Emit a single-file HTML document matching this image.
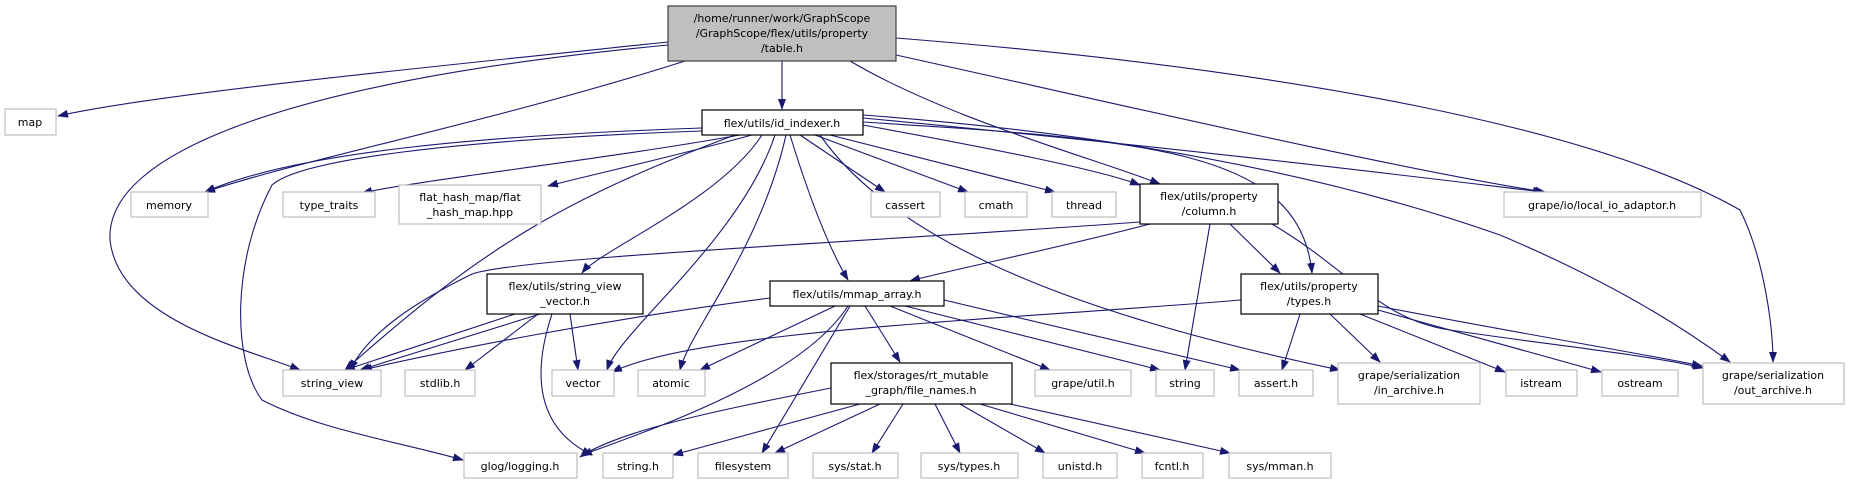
<!DOCTYPE html>
<html><head><meta charset="utf-8"><style>
html,body{margin:0;padding:0;background:#fff;}
svg{display:block;}
text{font-family:"DejaVu Sans","Liberation Sans",sans-serif;font-size:11px;fill:#000;text-anchor:middle;}
.e{fill:none;stroke:#191970;stroke-width:1.1;marker-end:url(#a);}
.l{fill:#fff;stroke:#bfbfbf;stroke-width:1.2;}
.n{fill:#fff;stroke:#000;stroke-width:1.2;}
</style></head><body>
<svg width="1850" height="484" viewBox="0 0 1850 484" xmlns="http://www.w3.org/2000/svg">
<defs><marker id="a" markerWidth="11" markerHeight="8" refX="10" refY="4" orient="auto" markerUnits="userSpaceOnUse"><path d="M0,0 L11,4 L0,8 z" fill="#191970"/></marker></defs>
<!-- edges from table.h -->
<path class="e" d="M668,42 C400,70 150,95 58,116"/>
<path class="e" d="M668,45 C300,80 105,150 110,240 C118,320 250,350 300,370"/>
<path class="e" d="M685,61 C500,120 300,160 205,192"/>
<path class="e" d="M782,61 L782,109"/>
<path class="e" d="M850,61 C950,120 1100,160 1160,184"/>
<path class="e" d="M896,55 C1100,100 1400,170 1545,192"/>
<path class="e" d="M896,38 C1300,70 1600,130 1740,210 C1765,260 1773,330 1773,362"/>
<!-- id_indexer -->
<path class="e" d="M702,128 C500,135 300,150 205,192"/>
<path class="e" d="M702,131 C450,140 300,160 272,185 C232,260 232,360 262,400 C320,430 400,442 463,460"/>
<path class="e" d="M740,135 C600,160 420,180 362,193"/>
<path class="e" d="M752,135 C660,160 590,175 548,186"/>
<path class="e" d="M735,135 C560,200 480,250 345,370"/>
<path class="e" d="M762,135 C720,200 600,250 582,273"/>
<path class="e" d="M775,135 C740,240 620,330 607,370"/>
<path class="e" d="M786,135 C760,250 690,330 680,370"/>
<path class="e" d="M790,135 C810,200 830,250 848,280"/>
<path class="e" d="M800,135 L885,192"/>
<path class="e" d="M815,135 L968,192"/>
<path class="e" d="M830,135 L1055,192"/>
<path class="e" d="M863,125 C1000,150 1100,170 1140,185"/>
<path class="e" d="M863,122 C1150,140 1300,150 1312,273"/>
<path class="e" d="M820,135 C900,250 1100,320 1340,370"/>
<path class="e" d="M863,118 C1200,150 1400,175 1543,192"/>
<path class="e" d="M863,115 C1200,140 1400,200 1500,235 C1630,290 1700,340 1730,362"/>
<!-- column.h -->
<path class="e" d="M1140,222 C900,240 500,258 470,275 C420,300 370,330 350,370"/>
<path class="e" d="M1150,224 C1050,250 950,270 910,281"/>
<path class="e" d="M1210,224 L1185,370"/>
<path class="e" d="M1230,224 L1280,273"/>
<path class="e" d="M1272,224 C1350,270 1380,320 1450,330 C1550,345 1650,355 1703,368"/>
<!-- string_view_vector -->
<path class="e" d="M515,314 L345,370"/>
<path class="e" d="M540,314 L360,370"/>
<path class="e" d="M538,314 L465,370"/>
<path class="e" d="M570,314 L578,370"/>
<path class="e" d="M552,314 C530,380 540,430 592,455"/>
<!-- mmap_array -->
<path class="e" d="M770,298 C600,320 450,350 362,370"/>
<path class="e" d="M835,306 L700,370"/>
<path class="e" d="M848,306 C800,380 650,430 582,455"/>
<path class="e" d="M850,306 L762,453"/>
<path class="e" d="M865,306 L900,362"/>
<path class="e" d="M890,306 L1050,370"/>
<path class="e" d="M905,306 L1160,370"/>
<path class="e" d="M944,300 L1240,370"/>
<!-- types.h -->
<path class="e" d="M1241,300 C1000,320 700,330 612,372"/>
<path class="e" d="M1300,314 L1282,370"/>
<path class="e" d="M1330,314 L1380,362"/>
<path class="e" d="M1360,314 L1505,372"/>
<path class="e" d="M1378,310 L1601,372"/>
<path class="e" d="M1378,306 C1500,330 1650,355 1702,366"/>
<!-- file_names -->
<path class="e" d="M831,388 C720,410 620,430 580,457"/>
<path class="e" d="M860,404 L673,455"/>
<path class="e" d="M880,404 L775,453"/>
<path class="e" d="M903,404 L872,453"/>
<path class="e" d="M935,404 L960,453"/>
<path class="e" d="M960,404 L1045,453"/>
<path class="e" d="M980,404 L1145,453"/>
<path class="e" d="M1010,404 L1230,453"/>
<!-- nodes -->
<rect x="668" y="6" width="228" height="55" fill="#bfbfbf" stroke="#404040" stroke-width="1.2"/>
<text x="782" y="22">/home/runner/work/GraphScope</text>
<text x="782" y="37">/GraphScope/flex/utils/property</text>
<text x="782" y="52">/table.h</text>
<rect class="l" x="5" y="109" width="51" height="26"/><text x="30" y="126">map</text>
<rect class="n" x="702" y="110" width="161" height="25"/><text x="782" y="127">flex/utils/id_indexer.h</text>
<rect class="l" x="131" y="192" width="77" height="25"/><text x="169" y="209">memory</text>
<rect class="l" x="283" y="192" width="92" height="25"/><text x="329" y="209">type_traits</text>
<rect class="l" x="399" y="185" width="142" height="39"/><text x="470" y="201">flat_hash_map/flat</text><text x="470" y="216">_hash_map.hpp</text>
<rect class="l" x="871" y="192" width="69" height="25"/><text x="905" y="209">cassert</text>
<rect class="l" x="965" y="192" width="62" height="25"/><text x="996" y="209">cmath</text>
<rect class="l" x="1052" y="192" width="64" height="25"/><text x="1084" y="209">thread</text>
<rect class="n" x="1140" y="184" width="138" height="40"/><text x="1209" y="200">flex/utils/property</text><text x="1209" y="215">/column.h</text>
<rect class="l" x="1504" y="192" width="197" height="25"/><text x="1602" y="209">grape/io/local_io_adaptor.h</text>
<rect class="n" x="487" y="274" width="156" height="40"/><text x="565" y="290">flex/utils/string_view</text><text x="565" y="305">_vector.h</text>
<rect class="n" x="770" y="281" width="174" height="25"/><text x="857" y="298">flex/utils/mmap_array.h</text>
<rect class="n" x="1241" y="274" width="137" height="40"/><text x="1309" y="290">flex/utils/property</text><text x="1309" y="305">/types.h</text>
<rect class="l" x="283" y="370" width="98" height="26"/><text x="332" y="387">string_view</text>
<rect class="l" x="405" y="370" width="70" height="26"/><text x="440" y="387">stdlib.h</text>
<rect class="l" x="552" y="370" width="62" height="26"/><text x="583" y="387">vector</text>
<rect class="l" x="638" y="370" width="67" height="26"/><text x="671" y="387">atomic</text>
<rect class="n" x="831" y="363" width="181" height="41"/><text x="921" y="379">flex/storages/rt_mutable</text><text x="921" y="394">_graph/file_names.h</text>
<rect class="l" x="1035" y="370" width="96" height="26"/><text x="1083" y="387">grape/util.h</text>
<rect class="l" x="1156" y="370" width="58" height="26"/><text x="1185" y="387">string</text>
<rect class="l" x="1239" y="370" width="74" height="26"/><text x="1276" y="387">assert.h</text>
<rect class="l" x="1338" y="363" width="142" height="41"/><text x="1409" y="379">grape/serialization</text><text x="1409" y="394">/in_archive.h</text>
<rect class="l" x="1506" y="370" width="71" height="26"/><text x="1541" y="387">istream</text>
<rect class="l" x="1602" y="370" width="76" height="26"/><text x="1640" y="387">ostream</text>
<rect class="l" x="1703" y="363" width="141" height="41"/><text x="1773" y="379">grape/serialization</text><text x="1773" y="394">/out_archive.h</text>
<rect class="l" x="464" y="453" width="113" height="25"/><text x="520" y="470">glog/logging.h</text>
<rect class="l" x="603" y="453" width="70" height="25"/><text x="638" y="470">string.h</text>
<rect class="l" x="698" y="453" width="90" height="25"/><text x="743" y="470">filesystem</text>
<rect class="l" x="813" y="453" width="85" height="25"/><text x="855" y="470">sys/stat.h</text>
<rect class="l" x="921" y="453" width="97" height="25"/><text x="969" y="470">sys/types.h</text>
<rect class="l" x="1043" y="453" width="74" height="25"/><text x="1080" y="470">unistd.h</text>
<rect class="l" x="1142" y="453" width="61" height="25"/><text x="1172" y="470">fcntl.h</text>
<rect class="l" x="1229" y="453" width="102" height="25"/><text x="1280" y="470">sys/mman.h</text>
</svg>
</body></html>
